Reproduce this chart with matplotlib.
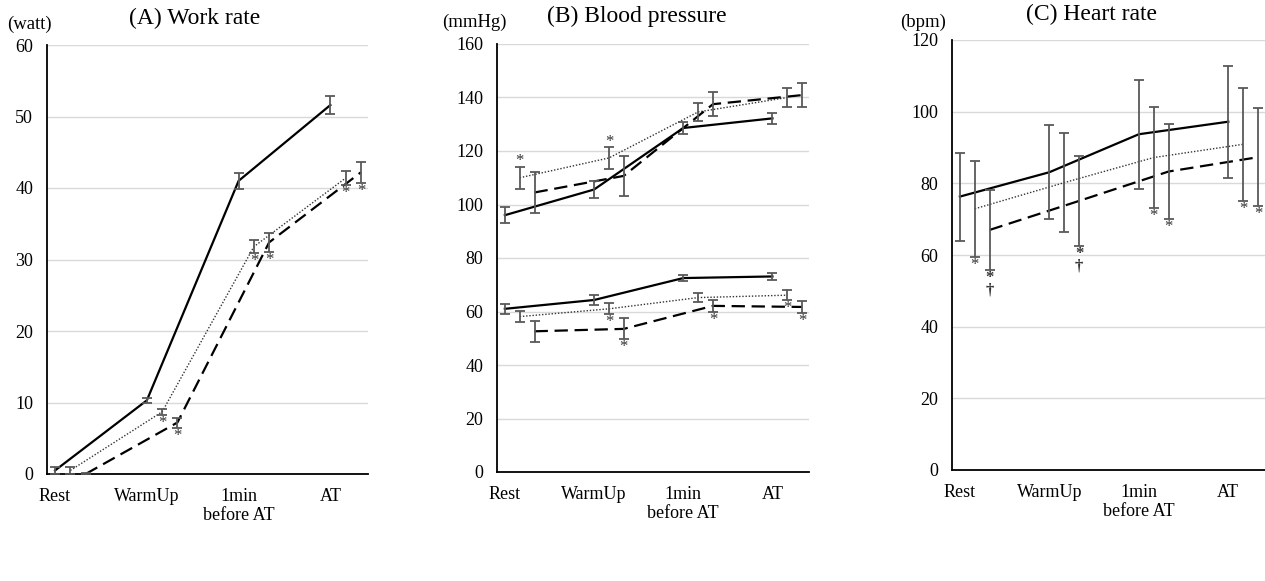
import matplotlib
matplotlib.use('Agg')
import matplotlib.pyplot as plt
import numpy as np

plt.rcParams['font.family'] = ['Liberation Serif', 'DejaVu Serif']

stages = ['Rest', 'WarmUp', '1min\nbefore AT', 'AT']

# (A) Work rate (watt)
work_solid = [0.5, 10.3, 41.0, 51.6]
work_solid_err = [0.5, 0.3, 1.1, 1.2]
work_dotted = [0.5, 8.7, 31.8, 41.4]
work_dotted_err = [0.5, 0.4, 0.9, 1.0]
work_dashed = [0.0, 7.2, 32.4, 42.2]
work_dashed_err = [0.1, 0.7, 1.3, 1.5]
work_dotted_sig = ['', '*', '*', '*']
work_dashed_sig = ['', '*', '*', '*']

# (B) Blood pressure (mmHg), systolic and diastolic
sbp_solid = [96.0, 105.6, 128.6, 132.2]
sbp_solid_err = [3.0, 3.0, 2.1, 2.1]
sbp_dotted = [110.0, 117.4, 134.6, 140.0]
sbp_dotted_err = [4.2, 4.0, 3.4, 3.4]
sbp_dashed = [104.5, 110.7, 137.5, 140.9]
sbp_dashed_err = [7.6, 7.5, 4.5, 4.5]
sbp_dotted_sig = ['*', '*', '', '']
sbp_dashed_sig = ['', '', '', '']

dbp_solid = [61.0, 64.3, 72.5, 73.1]
dbp_solid_err = [1.9, 1.8, 1.2, 1.2]
dbp_dotted = [58.1, 61.0, 65.2, 66.1]
dbp_dotted_err = [2.0, 2.0, 1.8, 1.8]
dbp_dashed = [52.6, 53.5, 62.1, 61.7]
dbp_dashed_err = [3.9, 3.9, 2.3, 2.2]
dbp_dotted_sig = ['', '*', '', '*']
dbp_dashed_sig = ['', '*', '*', '*']

# (C) Heart rate (bpm)
hr_solid = [76.3, 83.1, 93.7, 97.2]
hr_solid_err = [12.3, 13.1, 15.2, 15.6]
hr_dotted = [72.9, 80.2, 87.2, 90.9]
hr_dotted_err = [13.4, 13.9, 14.2, 15.7]
hr_dashed = [67.0, 75.1, 83.3, 87.3]
hr_dashed_err = [11.1, 12.5, 13.2, 13.6]
hr_dotted_sig = ['*', '', '*', '*']
hr_dashed_sig = ['*\n\u2020', '*\n\u2020', '*', '*']

W, H = 1265, 581
offsets = [0.0, 0.167, 0.333]
styles = [
    dict(linestyle='-', linewidth=1.6, color='black'),
    dict(linestyle=(0, (1, 1.3)), linewidth=1.0, color='#333333'),
    dict(linestyle=(0, (6, 3)), linewidth=1.6, color='black'),
]
XLIM = (-0.088, 3.41)


def make_axes(fig, left, right, top, bottom):
    return fig.add_axes([left / W, (H - bottom) / H, (right - left) / W, (bottom - top) / H])


def draw_series(ax, k, vals, errs, sig=None, sig_above=False):
    x = np.arange(len(vals)) + offsets[k]
    ax.plot(x, vals, zorder=3, **styles[k])
    ax.errorbar(x, vals, yerr=errs, fmt='none', ecolor='#595959', elinewidth=1.3,
                capsize=3.5, capthick=1.3, zorder=4)
    if sig is None:
        return
    for xi, v, e, s in zip(x, vals, errs, sig):
        if not s:
            continue
        if sig_above:
            ax.annotate(s, (xi, v + e), xytext=(0, -2), textcoords='offset points',
                        ha='center', va='bottom', fontsize=12, color='#333333')
        else:
            ax.annotate(s, (xi, v - e), xytext=(0, 0), textcoords='offset points',
                        ha='center', va='top', fontsize=12, color='#333333',
                        linespacing=0.75, fontweight='bold' if '\u2020' in s else 'normal')


def style_axes(ax, ymax, step):
    ax.set_xlim(*XLIM)
    ax.set_ylim(0, ymax)
    ax.set_yticks(np.arange(0, ymax + 1, step))
    ax.set_xticks(range(len(stages)))
    ax.set_xticklabels(stages, linespacing=1.2)
    ax.tick_params(axis='both', length=0, labelsize=13)
    ax.tick_params(axis='x', pad=10)
    ax.tick_params(axis='y', pad=10)
    ax.grid(axis='y', color='#d9d9d9', linewidth=1.0)
    ax.set_axisbelow(True)
    for sp in ['top', 'right']:
        ax.spines[sp].set_visible(False)
    for sp in ['left', 'bottom']:
        ax.spines[sp].set_linewidth(1.3)
        ax.spines[sp].set_color('black')


fig = plt.figure(figsize=(W / 100, H / 100), dpi=100)

axA = make_axes(fig, 47, 368, 45, 474)
draw_series(axA, 0, work_solid, work_solid_err)
draw_series(axA, 1, work_dotted, work_dotted_err, work_dotted_sig)
draw_series(axA, 2, work_dashed, work_dashed_err, work_dashed_sig)
style_axes(axA, 60, 10)

axB = make_axes(fig, 497, 809, 44, 472)
draw_series(axB, 0, sbp_solid, sbp_solid_err)
draw_series(axB, 1, sbp_dotted, sbp_dotted_err, sbp_dotted_sig, sig_above=True)
draw_series(axB, 2, sbp_dashed, sbp_dashed_err, sbp_dashed_sig)
draw_series(axB, 0, dbp_solid, dbp_solid_err)
draw_series(axB, 1, dbp_dotted, dbp_dotted_err, dbp_dotted_sig)
draw_series(axB, 2, dbp_dashed, dbp_dashed_err, dbp_dashed_sig)
style_axes(axB, 160, 20)

axC = make_axes(fig, 952, 1265, 40, 470)
draw_series(axC, 0, hr_solid, hr_solid_err)
draw_series(axC, 1, hr_dotted, hr_dotted_err, hr_dotted_sig)
draw_series(axC, 2, hr_dashed, hr_dashed_err, hr_dashed_sig)
style_axes(axC, 120, 20)

fig.text(195 / W, 1 - 18 / H, '(A) Work rate', ha='center', va='center', fontsize=17)
fig.text(637 / W, 1 - 16 / H, '(B) Blood pressure', ha='center', va='center', fontsize=17)
fig.text(1092 / W, 1 - 14 / H, '(C) Heart rate', ha='center', va='center', fontsize=17)
fig.text(29 / W, 1 - 24 / H, '(watt)', ha='center', va='center', fontsize=13.5)
fig.text(474 / W, 1 - 22 / H, '(mmHg)', ha='center', va='center', fontsize=13.5)
fig.text(923 / W, 1 - 22 / H, '(bpm)', ha='center', va='center', fontsize=13.5)

fig.savefig('out.png', dpi=100)
